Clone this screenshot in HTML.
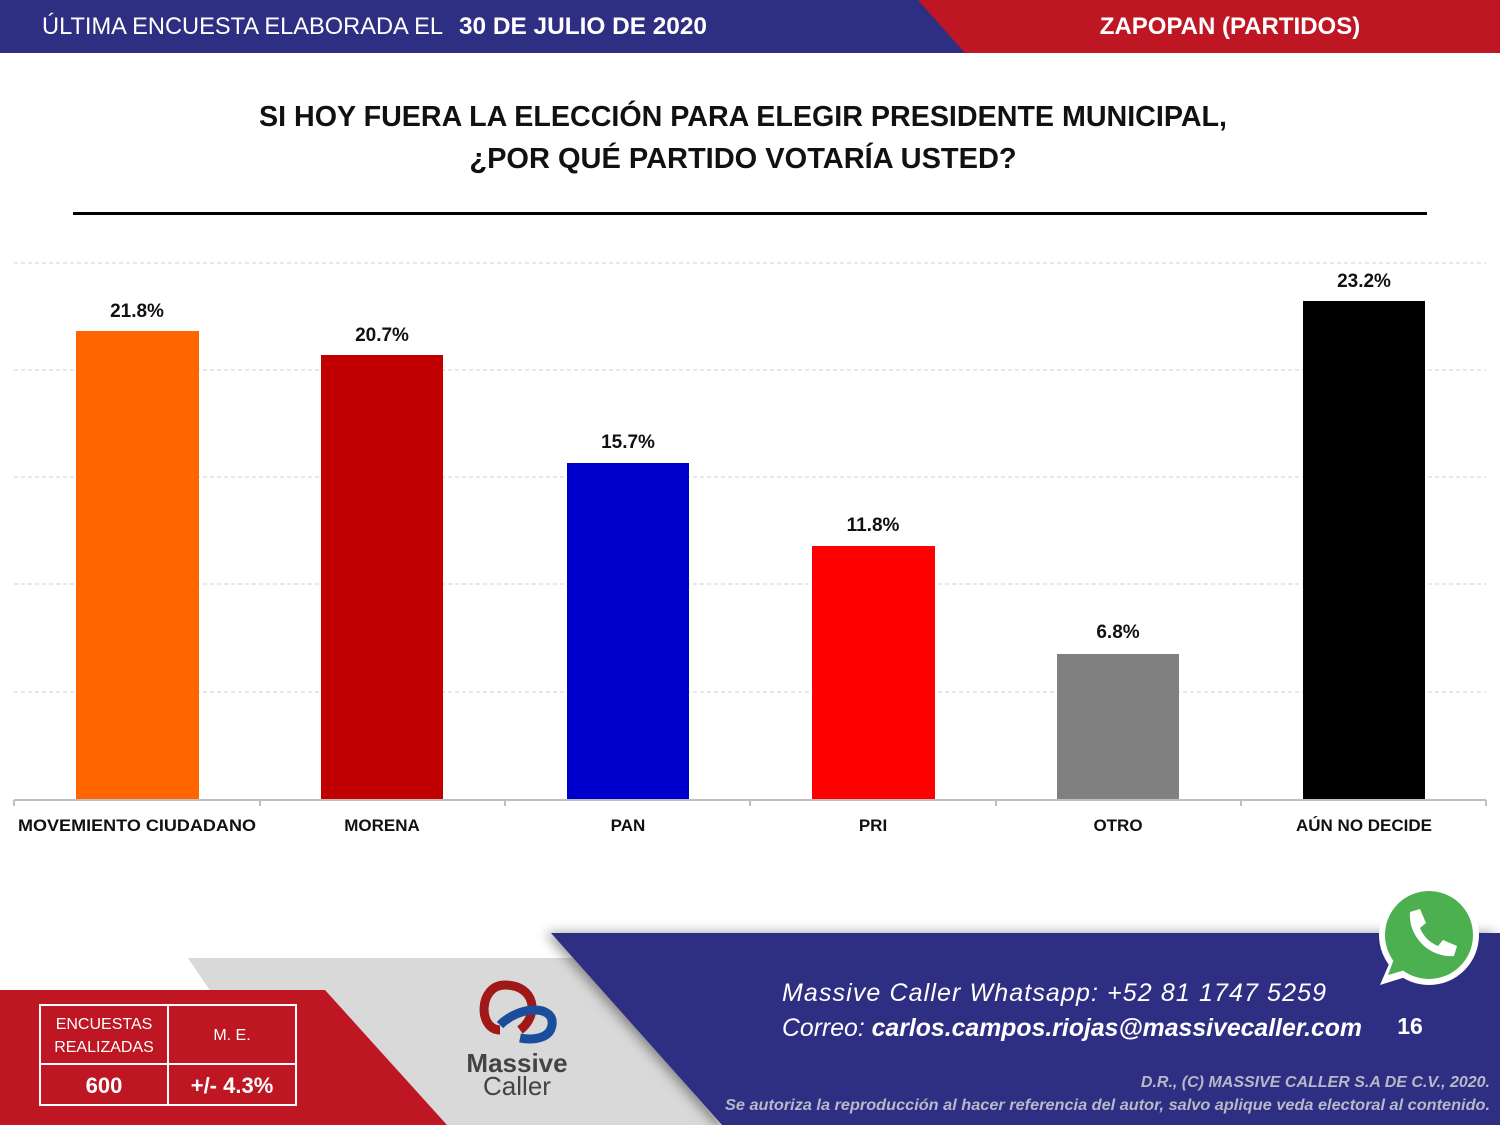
<!DOCTYPE html>
<html><head><meta charset="utf-8"><style>
body{margin:0;width:1500px;height:1125px;overflow:hidden;background:#fff;font-family:"Liberation Sans",sans-serif}
</style></head><body>
<svg width="1500" height="1125" xmlns="http://www.w3.org/2000/svg" font-family="Liberation Sans, sans-serif">
<defs><filter id="sh" x="-10%" y="-10%" width="120%" height="120%"><feDropShadow dx="-6" dy="0" stdDeviation="6" flood-opacity="0.4"/></filter></defs>
<rect x="0" y="0" width="1500" height="53" fill="#2e2f83"/>
<polygon points="918,0 1500,0 1500,53 965,53" fill="#be1622"/>
<text x="42" y="34" fill="#fff" font-size="24" textLength="401" lengthAdjust="spacingAndGlyphs">ÚLTIMA ENCUESTA ELABORADA EL</text>
<text x="459" y="34" fill="#fff" font-size="24" font-weight="bold" textLength="248" lengthAdjust="spacingAndGlyphs">30 DE JULIO DE 2020</text>
<text x="1230" y="34" fill="#fff" font-size="24" font-weight="bold" text-anchor="middle">ZAPOPAN (PARTIDOS)</text>
<text x="743" y="126" font-size="29" font-weight="bold" text-anchor="middle" fill="#111" textLength="968" lengthAdjust="spacingAndGlyphs">SI HOY FUERA LA ELECCIÓN PARA ELEGIR PRESIDENTE MUNICIPAL,</text>
<text x="743" y="168" font-size="29" font-weight="bold" text-anchor="middle" fill="#111">¿POR QUÉ PARTIDO VOTARÍA USTED?</text>
<rect x="73" y="212" width="1354" height="3" fill="#000"/>
<g stroke="#d0d0d0" stroke-dasharray="4,3" stroke-width="1">
<line x1="14" x2="1486" y1="263" y2="263"/><line x1="14" x2="1486" y1="370" y2="370"/><line x1="14" x2="1486" y1="477" y2="477"/><line x1="14" x2="1486" y1="584" y2="584"/><line x1="14" x2="1486" y1="692" y2="692"/>
</g>
<rect x="76" y="331" width="123" height="469" fill="#ff6600"/>
<rect x="321" y="355" width="122" height="445" fill="#c00000"/>
<rect x="567" y="463" width="122" height="337" fill="#0000cc"/>
<rect x="812" y="546" width="123" height="254" fill="#ff0000"/>
<rect x="1057" y="654" width="122" height="146" fill="#808080"/>
<rect x="1303" y="301" width="122" height="499" fill="#000"/>
<g stroke="#bfbfbf" stroke-width="2"><line x1="14" x2="1486" y1="800" y2="800"/>
<line x1="14" x2="14" y1="800" y2="806"/><line x1="260" x2="260" y1="800" y2="806"/><line x1="505" x2="505" y1="800" y2="806"/><line x1="750" x2="750" y1="800" y2="806"/><line x1="996" x2="996" y1="800" y2="806"/><line x1="1241" x2="1241" y1="800" y2="806"/><line x1="1486" x2="1486" y1="800" y2="806"/></g>
<g font-size="19" font-weight="bold" text-anchor="middle" fill="#111">
<text x="137" y="317">21.8%</text><text x="382" y="341">20.7%</text><text x="628" y="448">15.7%</text><text x="873" y="531">11.8%</text><text x="1118" y="638">6.8%</text><text x="1364" y="287">23.2%</text>
<text x="137" y="831" font-size="17" textLength="238" lengthAdjust="spacingAndGlyphs">MOVEMIENTO CIUDADANO</text><text x="382" y="831" font-size="17">MORENA</text><text x="628" y="831" font-size="17">PAN</text><text x="873" y="831" font-size="17">PRI</text><text x="1118" y="831" font-size="17">OTRO</text><text x="1364" y="831" font-size="17">AÚN NO DECIDE</text>
</g>
<polygon points="188,958 580,958 720,1125 300,1125" fill="#d9d9d9"/>
<polygon points="551,933 1500,933 1500,1125 722,1125" fill="#2e2f83" filter="url(#sh)"/>
<polygon points="0,990 325,990 447,1125 0,1125" fill="#be1622"/>
<g stroke="#fff" stroke-width="2" fill="none"><rect x="40" y="1005" width="256" height="100"/><line x1="168" x2="168" y1="1005" y2="1105"/><line x1="40" x2="296" y1="1064" y2="1064"/></g>
<g fill="#fff" text-anchor="middle"><text x="104" y="1029" font-size="16">ENCUESTAS</text><text x="104" y="1052" font-size="16">REALIZADAS</text><text x="232" y="1040" font-size="16">M. E.</text>
<text x="104" y="1093" font-size="22" font-weight="bold">600</text><text x="232" y="1093" font-size="22" font-weight="bold">+/- 4.3%</text></g>
<path d="M500,1030 C478,1030 478,985 505,985 C535,985 540,1015 520,1030" stroke="#a01818" stroke-width="9" fill="none"/>
<path d="M500,1025 C520,1005 555,1005 552,1025 C550,1040 530,1040 520,1038" stroke="#1a4e9c" stroke-width="9" fill="none"/>
<text x="517" y="1072" font-size="26" font-weight="bold" fill="#444" text-anchor="middle">Massive</text>
<text x="517" y="1095" font-size="26" fill="#444" text-anchor="middle">Caller</text>
<g font-style="italic" fill="#fff"><text x="782" y="1001" font-size="25" textLength="544" lengthAdjust="spacing">Massive Caller Whatsapp:  +52  81 1747 5259</text>
<text x="782" y="1036" font-size="25" textLength="580" lengthAdjust="spacingAndGlyphs">Correo: <tspan font-weight="bold">carlos.campos.riojas@massivecaller.com</tspan></text></g>
<text x="1410" y="1034" font-size="23" font-weight="bold" fill="#fff" text-anchor="middle">16</text>
<g font-style="italic" font-weight="bold" fill="#b8b8c8" font-size="16" text-anchor="end"><text x="1490" y="1087">D.R., (C) MASSIVE CALLER S.A DE C.V., 2020.</text><text x="1490" y="1110" textLength="765" lengthAdjust="spacingAndGlyphs">Se autoriza la reproducción al hacer referencia del autor, salvo aplique veda electoral al contenido.</text></g>
<circle cx="1429" cy="935" r="50" fill="#fff"/>
<polygon points="1380,985 1395,950 1412,975" fill="#fff"/>
<circle cx="1429" cy="935" r="44" fill="#4caf50"/>
<polygon points="1388,975 1398,948 1412,968" fill="#4caf50"/>
<path d="M1410,912 l10,-3 l6,14 l-6,5 c4,9 9,14 18,18 l5,-6 l14,6 l-3,10 c-25,2 -46,-20 -44,-44z" fill="#fff"/>
</svg>
</body></html>
